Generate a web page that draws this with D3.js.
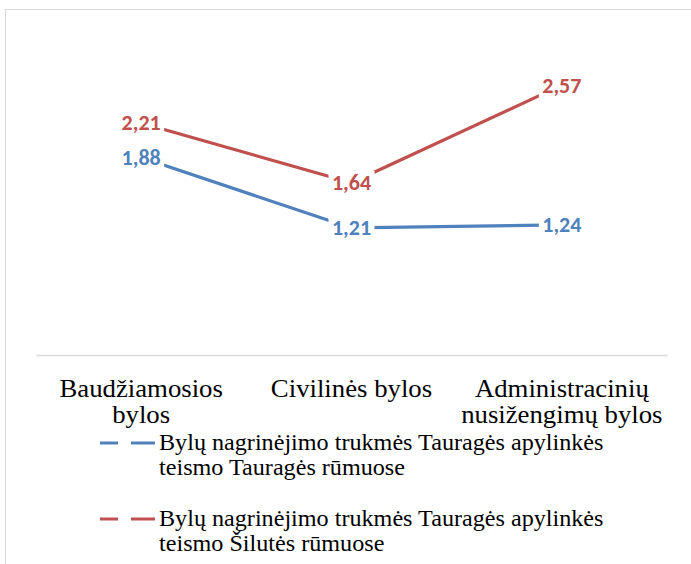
<!DOCTYPE html>
<html><head><meta charset="utf-8"><script src="https://cdn.jsdelivr.net/npm/d3@7"></script></head>
<body style="margin:0">
<svg width="691" height="564"></svg>
<script>
const categories = [["Baudžiamosios", "bylos"], ["Civilinės bylos"], ["Administracinių", "nusižengimų bylos"]];
const seriesNames = [
    ["Bylų nagrinėjimo trukmės Tauragės apylinkės", "teismo Tauragės rūmuose"],
    ["Bylų nagrinėjimo trukmės Tauragės apylinkės", "teismo Šilutės rūmuose"]
];
const taurageValues = [1.88, 1.21, 1.24];
const siluteValues = [2.21, 1.64, 2.57];
const seriesColors = ["#4F81BD", "#C0504D"];

const series = [taurageValues, siluteValues];
const stretch = 1.05; // serif text in the source is slightly wide

let chart = d3.select("svg");

const plot = { left: 36, right: 667, top: 40, bottom: 355 };

// chart border
chart.append("rect")
.attr("x", 5.5)
.attr("y", 9.5)
.attr("width", 700)
.attr("height", 600)
.attr("fill", "none")
.attr("stroke", "#d9d9d9");

let scaleX = d3.scaleBand()
.domain(d3.range(categories.length))
.range([plot.left, plot.right]);

let scaleY = d3.scaleLinear()
.domain([0, 3])
.range([plot.bottom, plot.top]);

// x axis
chart.append("g")
.attr("transform", `translate(0, ${plot.bottom})`)
.call(d3.axisBottom(scaleX).tickSize(0).tickFormat(""))
.call(g => g.select(".domain").attr("stroke", "#d9d9d9").attr("stroke-width", 1.5));

// category labels, one text per line
let catLines = [];
categories.forEach((c, i) => c.forEach((t, k) => catLines.push({ t: t, i: i, k: k })));

chart.selectAll("text.cat")
.data(catLines)
.enter()
.append("text")
.attr("class", "cat")
.attr("transform", d => `translate(${scaleX(d.i) + scaleX.bandwidth() / 2}, ${397 + d.k * 26}) scale(${stretch}, 1)`)
.attr("text-anchor", "middle")
.style("font-family", `"Liberation Serif"`)
.style("font-size", "25.5px")
.text(d => d.t);

let line = d3.line()
.x((d, i) => scaleX(i) + scaleX.bandwidth() / 2)
.y(d => scaleY(d));

// lines
series.forEach((values, s) => {
    chart.append("path")
    .datum(values)
    .attr("d", line)
    .attr("fill", "none")
    .attr("stroke", seriesColors[s])
    .attr("stroke-width", 3.2)
    .attr("stroke-linejoin", "round");
});

// data labels with white background
series.forEach((values, s) => {
    values.forEach((v, i) => {
        let cx = scaleX(i) + scaleX.bandwidth() / 2,
            cy = scaleY(v);
        chart.append("rect")
        .attr("x", cx - 23)
        .attr("y", cy - 12)
        .attr("width", 46)
        .attr("height", 24)
        .attr("fill", "#fff");
        chart.append("text")
        .attr("x", cx)
        .attr("y", cy + 7.5)
        .attr("text-anchor", "middle")
        .attr("fill", seriesColors[s])
        .style("font-family", `"Carlito"`)
        .style("font-weight", "bold")
        .style("font-size", "22px")
        .text(d3.format(".2f")(v).replace(".", ","));
    });
});

// legend
const legendTop = [443, 519];
let legLines = [];
seriesNames.forEach((n, i) => n.forEach((t, k) => legLines.push({ t: t, i: i, k: k })));

seriesNames.forEach((n, i) => {
    chart.append("line")
    .attr("x1", 100).attr("x2", 155)
    .attr("y1", legendTop[i]).attr("y2", legendTop[i])
    .attr("stroke", seriesColors[i])
    .attr("stroke-width", 3.2)
    .attr("stroke-dasharray", "18, 13, 24");
});

chart.selectAll("text.leg")
.data(legLines)
.enter()
.append("text")
.attr("class", "leg")
.attr("transform", d => `translate(159, ${legendTop[d.i] + 7 + d.k * 25}) scale(${stretch}, 1)`)
.style("font-family", `"Liberation Serif"`)
.style("font-size", "23px")
.text(d => d.t);
</script></body></html>
